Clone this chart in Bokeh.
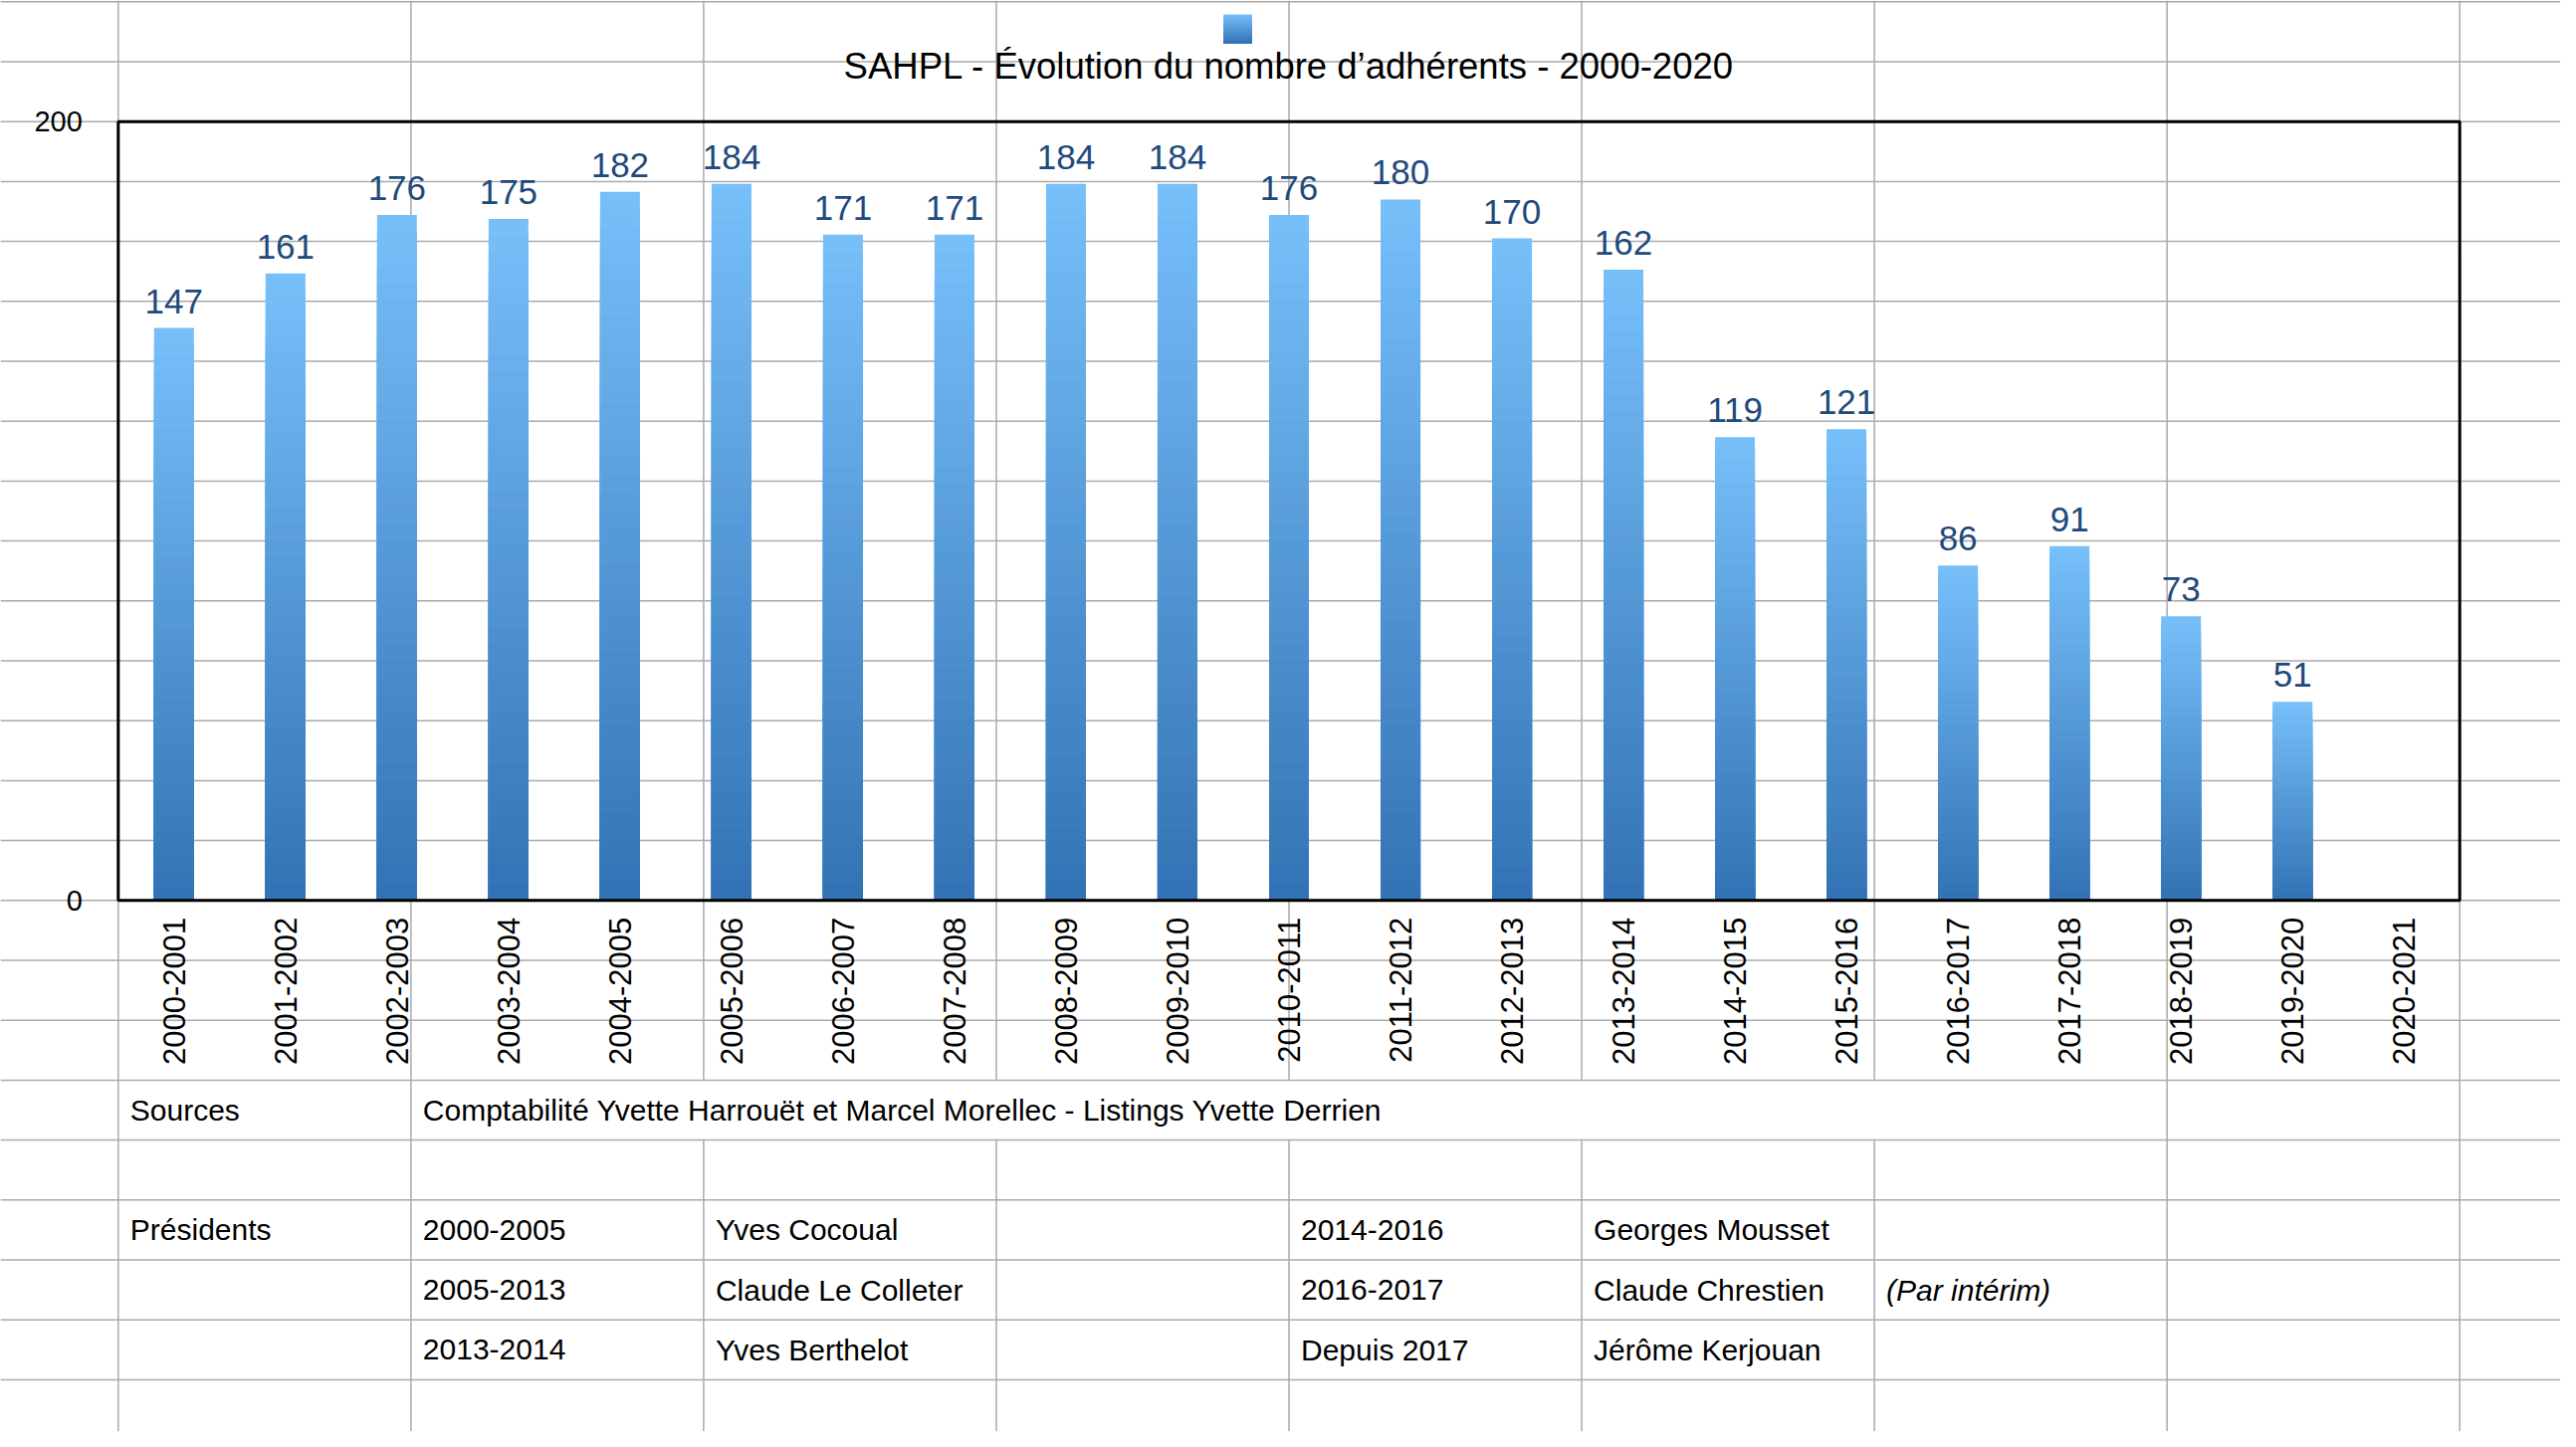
import numpy as np
from bokeh.plotting import figure
from bokeh.models import ColumnDataSource, Range1d
from bokeh.core.properties import value
from bokeh.embed import file_html
from bokeh.resources import INLINE

# ---- data ----
seasons = ["2000-2001", "2001-2002", "2002-2003", "2003-2004", "2004-2005",
           "2005-2006", "2006-2007", "2007-2008", "2008-2009", "2009-2010",
           "2010-2011", "2011-2012", "2012-2013", "2013-2014", "2014-2015",
           "2015-2016", "2016-2017", "2017-2018", "2018-2019", "2019-2020",
           "2020-2021"]
members = [147, 161, 176, 175, 182, 184, 171, 171, 184, 184,
           176, 180, 170, 162, 119, 121, 86, 91, 73, 51, None]
y_ticks = [0, 200]
y_tick_labels = ["0", "200"]
title_text = "SAHPL - Évolution du nombre d’adhérents - 2000-2020"
sources_label = "Sources"
sources_text = "Comptabilité Yvette Harrouët et Marcel Morellec - Listings Yvette Derrien"
presidents_label = "Présidents"
periods_a = ["2000-2005", "2005-2013", "2013-2014"]
names_a = ["Yves Cocoual", "Claude Le Colleter", "Yves Berthelot"]
periods_b = ["2014-2016", "2016-2017", "Depuis 2017"]
names_b = ["Georges Mousset", "Claude Chrestien", "Jérôme Kerjouan"]
notes_b = ["", "(Par intérim)", ""]

# ---- sheet geometry (page pixels) ----
W, H = 2572, 1438
X0, Y0 = 118.3, 1.3
COL_W, ROW_H = 294.05, 60.2
N_COLS, N_ROWS = 8, 24

def col_x(c):
    return X0 + c * COL_W

def row_y(r):
    return Y0 + r * ROW_H

def row_mid(r):
    return (row_y(r) + row_y(r + 1)) / 2

FONT = value("Liberation Sans")
GRID = "#aaaaaa"
BAR_TOP = np.array([118, 191, 249])
BAR_BOT = np.array([51, 115, 181])
STEPS = 40

# chart frame sits on sheet cells cols 0-8, rows 2-15
left, right = col_x(0), col_x(8)
top, bottom = row_y(2), row_y(15)
n = len(seasons)
cw = (right - left) / n           # px per category
k = (bottom - top) / y_ticks[-1]  # px per member
pos = np.arange(n) + 0.5          # category slots

p = figure(width=W, height=H, output_backend="svg", toolbar_location=None,
           x_range=Range1d(0, W), y_range=Range1d(H, 0),
           x_axis_type=None, y_axis_type=None, min_border=0,
           outline_line_color=None, background_fill_color="white",
           border_fill_color="white")
p.extra_x_ranges = {"cat": Range1d(-left / cw, n + (W - right) / cw)}
p.extra_y_ranges = {"val": Range1d(-(H - bottom) / k, y_ticks[-1] + top / k)}

# spreadsheet grid
hx0, hy0, hx1, hy1 = [], [], [], []
for r in range(N_ROWS + 1):
    hx0.append(0); hx1.append(W); hy0.append(row_y(r)); hy1.append(row_y(r))
for c in range(N_COLS + 1):
    if 2 <= c <= 6:
        # merged "Sources" cell breaks these lines
        hx0 += [col_x(c), col_x(c)]; hx1 += [col_x(c), col_x(c)]
        hy0 += [0, row_y(19)]; hy1 += [row_y(18), H]
    else:
        hx0.append(col_x(c)); hx1.append(col_x(c)); hy0.append(0); hy1.append(H)
p.segment(x0=hx0, y0=hy0, x1=hx1, y1=hy1, line_color=GRID, line_width=1.5)

def shade(s):
    t = s / (STEPS - 1)
    c = BAR_BOT + (BAR_TOP - BAR_BOT) * t
    return "#%02x%02x%02x" % tuple(int(round(v)) for v in c)

# gradient bars: stacked overlapping slices, tallest first
bx, btop, bcol = [], [], []
for s in reversed(range(STEPS)):
    for x, v in zip(pos, members):
        if v is None:
            continue
        bx.append(x); btop.append(v * (s + 1) / STEPS); bcol.append(shade(s))
p.vbar(x=bx, bottom=0, top=btop, width=0.357, fill_color=bcol, line_color=None,
       x_range_name="cat", y_range_name="val")

# legend swatch
sw_l, sw_r, sw_b, sw_h = 1229, 1257, 42.7, 28.7
p.quad(left=sw_l, right=sw_r, bottom=sw_b,
       top=[sw_b - sw_h * (s + 1) / STEPS for s in reversed(range(STEPS))],
       fill_color=[shade(s) for s in reversed(range(STEPS))], line_color=None)

# frame
p.quad(left=left, right=right, top=top, bottom=bottom, fill_color=None,
       line_color="black", line_width=3)

# value labels, centred ~27px above each bar
gap = 27 / k
vals = [(x, v) for x, v in zip(pos, members) if v is not None]
lab_src = ColumnDataSource(dict(x=[x for x, v in vals], y=[v + gap for x, v in vals],
                                t=[str(v) for x, v in vals]))
p.text(x="x", y="y", text="t", source=lab_src, x_range_name="cat", y_range_name="val",
       text_font=FONT, text_font_size="35px", text_color="#21497c",
       text_align="center", text_baseline="middle")

# category labels
p.text(x=pos, y=bottom + 17, text=seasons, x_range_name="cat", angle=np.pi / 2,
       text_font=FONT, text_font_size="31px", text_color="black",
       text_align="right", text_baseline="middle")

# y tick labels
p.text(x=left - 36, y=y_ticks, text=y_tick_labels, y_range_name="val",
       text_font=FONT, text_font_size="29px", text_color="black",
       text_align="right", text_baseline="middle")

# title
p.text(x=[(left + right) / 2], y=[65.5], text=[title_text], text_font=FONT,
       text_font_size="36.5px", text_color="black", text_align="center",
       text_baseline="middle")

# table below the chart
tx, ty, tt = [], [], []
def cell(c, r, txt):
    if txt:
        tx.append(col_x(c) + 12); ty.append(row_mid(r)); tt.append(txt)

cell(0, 18, sources_label)
cell(1, 18, sources_text)
cell(0, 20, presidents_label)
for i in range(3):
    cell(1, 20 + i, periods_a[i])
    cell(2, 20 + i, names_a[i])
    cell(4, 20 + i, periods_b[i])
    cell(5, 20 + i, names_b[i])
p.text(x=tx, y=ty, text=tt, text_font=FONT, text_font_size="30px", text_color="black",
       text_align="left", text_baseline="middle")

nx, ny, nt = [], [], []
for i in range(3):
    if notes_b[i]:
        nx.append(col_x(6) + 12); ny.append(row_mid(20 + i)); nt.append(notes_b[i])
p.text(x=nx, y=ny, text=nt, text_font=FONT, text_font_size="30px", text_color="black",
       text_font_style="italic", text_align="left", text_baseline="middle")

open("out.html", "w").write(file_html(p, INLINE))
